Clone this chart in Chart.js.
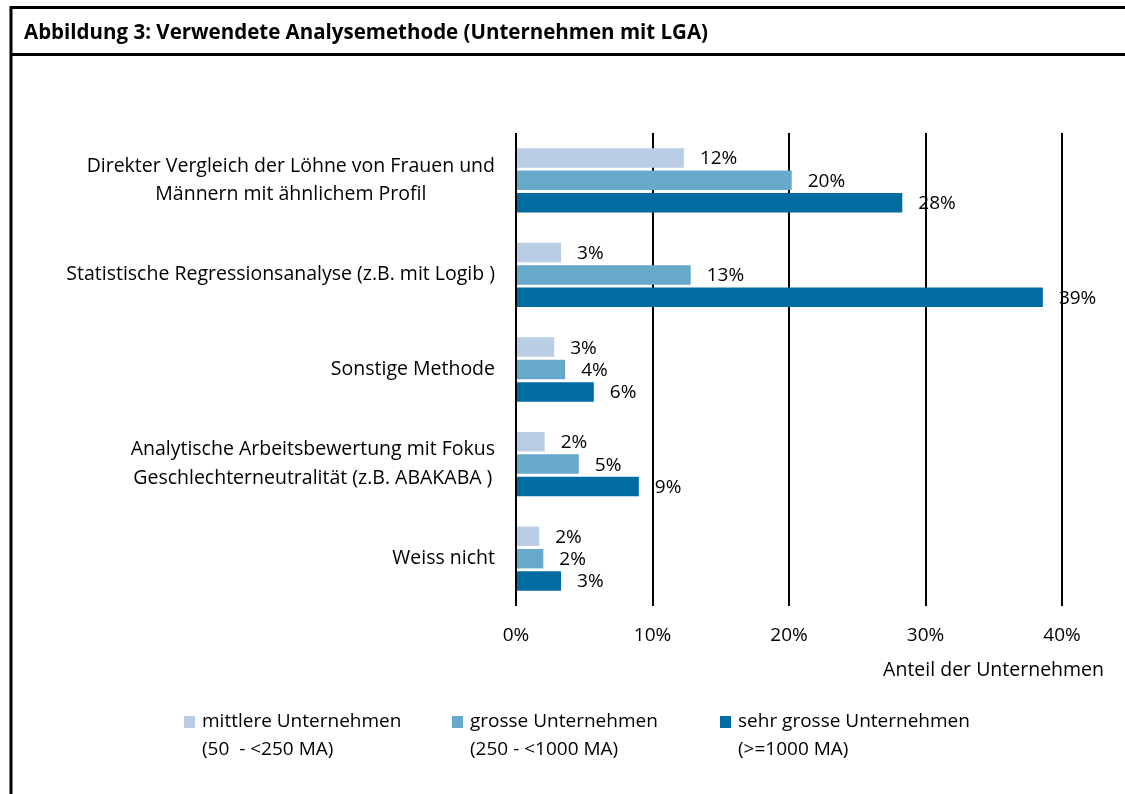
<!DOCTYPE html>
<html>
<head>
<meta charset="utf-8">
<script src="https://cdn.jsdelivr.net/npm/chart.js@4/dist/chart.umd.min.js"></script>
<style>
  html, body { margin: 0; padding: 0; background: #ffffff; }
  #wrap { width: 1125px; height: 794px; position: relative; }
</style>
</head>
<body>
<div id="wrap"><canvas id="c" width="1125" height="794"></canvas></div>
<script>
// ---- data ----
const titleText = 'Abbildung 3: Verwendete Analysemethode (Unternehmen mit LGA)';
const categories = [
  ['Direkter Vergleich der Löhne von Frauen und', 'Männern mit ähnlichem Profil'],
  ['Statistische Regressionsanalyse (z.B. mit Logib )'],
  ['Sonstige Methode'],
  ['Analytische Arbeitsbewertung mit Fokus', 'Geschlechterneutralität (z.B. ABAKABA )'],
  ['Weiss nicht']
];
const seriesNames = [
  ['mittlere Unternehmen', '(50  - <250 MA)'],
  ['grosse Unternehmen', '(250 - <1000 MA)'],
  ['sehr grosse Unternehmen', '(>=1000 MA)']
];
const mittlere   = [12.3, 3.3, 2.8, 2.1, 1.7];
const grosse     = [20.2, 12.8, 3.6, 4.6, 2.0];
const sehrGrosse = [28.3, 38.6, 5.7, 9.0, 3.3];
const xTickValues = [0, 10, 20, 30, 40];
const axisTitle = 'Anteil der Unternehmen';

// ---- styles ----
const colors = ['#b9cde5', '#67a9ca', '#016ca2'];
const FONT = '"Open Sans", "Liberation Sans", sans-serif';

const decoPlugin = {
  id: 'deco',
  afterDraw(chart) {
    const ctx = chart.ctx;
    ctx.save();
    // frame
    ctx.strokeStyle = '#000';
    ctx.lineWidth = 3;
    ctx.beginPath();
    ctx.moveTo(11, 794); ctx.lineTo(11, 7.5); ctx.lineTo(1125, 7.5);
    ctx.moveTo(11, 54.5); ctx.lineTo(1125, 54.5);
    ctx.stroke();
    // title
    ctx.fillStyle = '#000';
    ctx.font = 'bold 20.5px ' + FONT;
    ctx.textBaseline = 'alphabetic';
    ctx.textAlign = 'left';
    ctx.fillText(titleText, 24, 39);

    // category labels (right-aligned block, lines centred within block)
    const y = chart.scales.y;
    ctx.textBaseline = 'middle';
    ctx.font = '19.5px ' + FONT;
    ctx.textAlign = 'center';
    const rightX = 495, lh = 28.5;
    categories.forEach((lines, i) => {
      const cy = y.getPixelForTick(i);
      const w = Math.max(...lines.map(l => ctx.measureText(l).width));
      const cx = rightX - w / 2;
      const y0 = cy - (lines.length - 1) * lh / 2;
      lines.forEach((l, j) => ctx.fillText(l, cx, y0 + j * lh));
    });

    // axis title
    ctx.textAlign = 'right';
    ctx.font = '19.5px ' + FONT;
    ctx.fillText(axisTitle, 1104, 670);

    // legend
    const legX = [184, 452, 720];
    chart.data.datasets.forEach((ds, i) => {
      ctx.fillStyle = ds.backgroundColor;
      ctx.fillRect(legX[i], 716, 11, 12);
      ctx.fillStyle = '#000';
      ctx.textAlign = 'left';
      ctx.font = '19px ' + FONT;
      seriesNames[i].forEach((l, j) => ctx.fillText(l, legX[i] + 18, 722 + j * 28));
    });
    ctx.restore();
  },
  afterDatasetsDraw(chart) {
    const ctx = chart.ctx;
    ctx.save();
    ctx.fillStyle = '#000';
    ctx.font = '19px ' + FONT;
    ctx.textAlign = 'left';
    ctx.textBaseline = 'middle';
    chart.data.datasets.forEach((ds, i) => {
      chart.getDatasetMeta(i).data.forEach((bar, k) => {
        ctx.fillText(Math.round(ds.data[k]) + '%', bar.x + 16, bar.y + 1);
      });
    });
    ctx.restore();
  }
};

new Chart(document.getElementById('c'), {
  type: 'bar',
  data: {
    labels: categories,
    datasets: [
      { label: seriesNames[0].join(' '), data: mittlere, backgroundColor: colors[0] },
      { label: seriesNames[1].join(' '), data: grosse, backgroundColor: colors[1] },
      { label: seriesNames[2].join(' '), data: sehrGrosse, backgroundColor: colors[2] }
    ]
  },
  options: {
    indexAxis: 'y',
    responsive: false,
    animation: false,
    devicePixelRatio: 1,
    categoryPercentage: 0.71,
    barPercentage: 0.87,
    layout: { padding: { left: 516, right: 63, top: 133, bottom: 146 } },
    plugins: { legend: { display: false }, title: { display: false }, tooltip: { enabled: false } },
    scales: {
      x: {
        type: 'linear',
        position: 'bottom',
        min: 0, max: 40,
        afterBuildTicks: s => { s.ticks = xTickValues.map(v => ({ value: v })); },
        afterFit: s => { s.height = 42; },
        ticks: { callback: v => v + '%', color: '#000', font: { family: FONT, size: 19 }, padding: 18, maxRotation: 0 },
        grid: { color: '#000', lineWidth: 2, drawTicks: false },
        border: { display: false }
      },
      y: {
        type: 'category',
        ticks: { display: false },
        grid: { display: false },
        border: { display: false },
        afterFit: s => { s.width = 0; }
      }
    }
  },
  plugins: [decoPlugin]
});
</script>
</body>
</html>
